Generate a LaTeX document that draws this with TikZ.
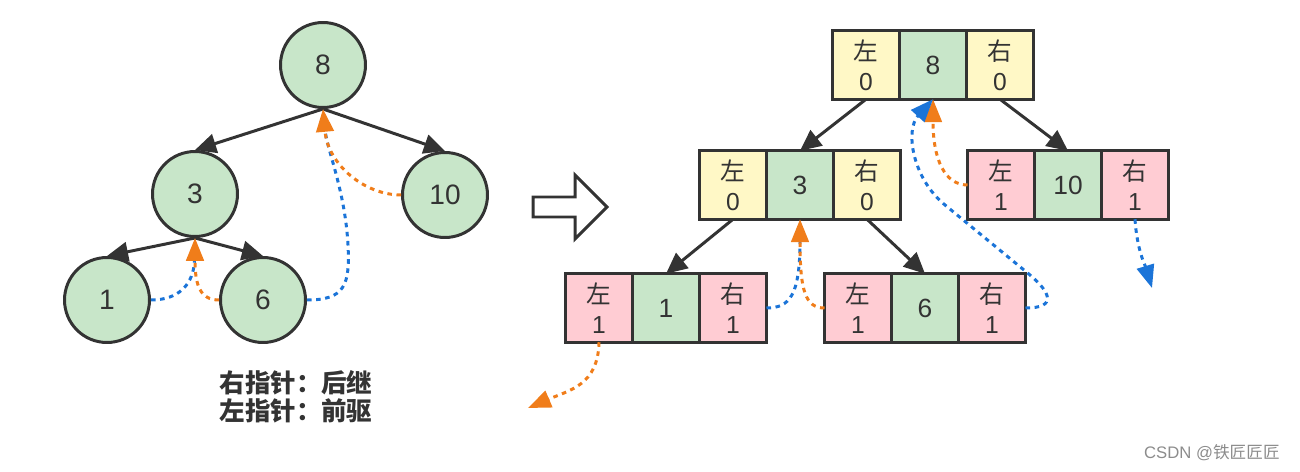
\documentclass[tikz,border=0pt]{standalone}
\usepackage{fontspec}
\setmainfont{Liberation Sans}
\newfontfamily\cjk{Noto Sans CJK SC}
\usetikzlibrary{positioning, arrows.meta}
\definecolor{nodegreen}{HTML}{C8E6C9}
\definecolor{cellyellow}{HTML}{FFF8C6}
\definecolor{cellpink}{HTML}{FFCCD3}
\definecolor{linegray}{HTML}{333333}
\definecolor{predorange}{HTML}{F07D1A}
\definecolor{succblue}{HTML}{1B74D8}

\begin{document}
\begin{tikzpicture}[
    x=0.02cm, y=-0.02cm,
    tnode/.style={circle, draw=linegray, line width=1.7pt, fill=nodegreen, minimum size=1.7cm, inner sep=0pt, font=\fontsize{16}{16}\selectfont, text=linegray},
    cell/.style={draw=linegray, line width=1.7pt, minimum width=1.34cm, minimum height=1.37cm, inner sep=0pt, outer sep=0pt, align=center, text=linegray, font=\fontsize{14}{17}\selectfont},
    key/.style={cell, fill=nodegreen, font=\fontsize{15}{17}\selectfont},
    tag0/.style={cell, fill=cellyellow},
    tag1/.style={cell, fill=cellpink},
    arr/.style={-{Triangle[length=12pt, width=11pt]}, line width=1.7pt, draw=linegray},
    thread/.style={line width=1.7pt, dash pattern=on 2.6pt off 2.6pt},
    pred/.style={thread, predorange, -{Triangle[length=13pt, width=10pt]}},
    succ/.style={thread, succblue, -{Triangle[length=13pt, width=10pt]}},
]
\useasboundingbox (0,0) rectangle (1300,472);

% tree
\node[tnode] (n8) at (323,65) {8};
\node[tnode] (n3) at (195,194) {3};
\node[tnode] (n10) at (445,195) {10};
\node[tnode] (n1) at (107,300) {1};
\node[tnode] (n6) at (263,300) {6};

\draw[arr] (n8.south) -- (n3.north);
\draw[arr] (n8.south) -- (n10.north);
\draw[arr] (n3.south) -- (n1.north);
\draw[arr] (n3.south) -- (n6.north);

\draw[thread, succblue, shorten >=12pt] (n1.east) .. controls (178,300) and (194,285) .. (n3.south);
\draw[pred] (n6.west) .. controls (200,300) and (195,285) .. (n3.south);
\draw[thread, succblue, shorten >=12pt] (n6.east) .. controls (345,300) and (350,285) .. (348,245) .. controls (345,190) and (327,150) .. (n8.south);
\draw[pred] (n10.west) .. controls (365,195) and (328,165) .. (n8.south);

\node[font=\cjk\bfseries\fontsize{14.5}{16}\selectfont, align=left, text=linegray] (legend) at (296,397) {右指针：后继\\左指针：前驱};

% hollow arrow
\draw[linegray, line width=1.7pt, fill=white] (533,197) -- (575,197) -- (575,175) -- (607,207) -- (575,239) -- (575,217) -- (533,217) -- cycle;

% threaded records
\node[key] (r8m) at (933,65) {8};
\node[tag0, left=0pt of r8m] (r8l) {{\cjk 左}\\0};
\node[tag0, right=0pt of r8m] (r8r) {{\cjk 右}\\0};

\node[key] (r3m) at (800,185) {3};
\node[tag0, left=0pt of r3m] (r3l) {{\cjk 左}\\0};
\node[tag0, right=0pt of r3m] (r3r) {{\cjk 右}\\0};

\node[key] (r10m) at (1068,185) {10};
\node[tag1, left=0pt of r10m] (r10l) {{\cjk 左}\\1};
\node[tag1, right=0pt of r10m] (r10r) {{\cjk 右}\\1};

\node[key] (r1m) at (666,308) {1};
\node[tag1, left=0pt of r1m] (r1l) {{\cjk 左}\\1};
\node[tag1, right=0pt of r1m] (r1r) {{\cjk 右}\\1};

\node[key] (r6m) at (925,308) {6};
\node[tag1, left=0pt of r6m] (r6l) {{\cjk 左}\\1};
\node[tag1, right=0pt of r6m] (r6r) {{\cjk 右}\\1};

\coordinate (nilL) at (528,408);
\coordinate (nilR) at (1152,288);

\draw[arr] (r8l.south) -- (r3m.north);
\draw[arr] (r8r.south) -- (r10m.north);
\draw[arr] (r3l.south) -- (r1m.north);
\draw[arr] (r3r.south) -- (r6m.north);

\draw[pred] (r1l.south) .. controls (598,385) and (570,390) .. (nilL);
\draw[thread, succblue, shorten >=12pt] (r1r.east) .. controls (790,308) and (800,295) .. (r3m.south);
\draw[pred] (r6l.west) .. controls (805,308) and (800,290) .. (r3m.south);
\draw[pred] (r10l.west) .. controls (945,185) and (933,160) .. (r8m.south);
\draw[succ] (r6r.east) .. controls (1058,308) and (1050,292) .. (1030,275) -- (945,205) .. controls (912,178) and (905,130) .. (r8m.south);
\draw[succ] (r10r.south) .. controls (1137,250) and (1145,265) .. (nilR);

\node[font=\fontsize{9.5}{10}\selectfont, text=black!45, anchor=east] (mark) at (1286,453) {CSDN @{\cjk 铁匠匠匠}};
\end{tikzpicture}
\end{document}
